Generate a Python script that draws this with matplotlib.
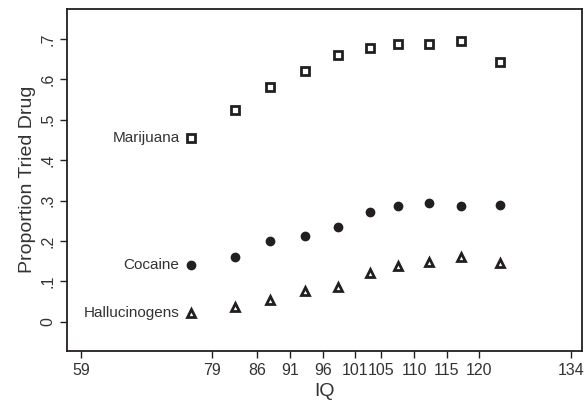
import numpy as np
import matplotlib
matplotlib.use('Agg')
import matplotlib.pyplot as plt

plt.rcParams['font.family'] = ['Liberation Sans', 'DejaVu Sans']

iq = [75.8, 82.5, 88.0, 93.3, 98.3, 103.2, 107.6, 112.3, 117.2, 123.1]
marijuana = [0.456, 0.524, 0.582, 0.621, 0.660, 0.677, 0.687, 0.687, 0.694, 0.642]
cocaine = [0.140, 0.161, 0.200, 0.213, 0.234, 0.272, 0.286, 0.293, 0.286, 0.289]
halluc = [0.022, 0.037, 0.054, 0.075, 0.085, 0.120, 0.138, 0.148, 0.159, 0.145]

xticks = [59, 79, 86, 91, 96, 101, 105, 110, 115, 120, 134]
yticks = [0, .1, .2, .3, .4, .5, .6, .7]
ylabels = ['0', '.1', '.2', '.3', '.4', '.5', '.6', '.7']

ink = '#231f20'

fig = plt.figure(figsize=(5.84, 4.05), dpi=100, facecolor='w')
ax = fig.add_axes([0.1152, 0.134, 0.9966 - 0.1152, 0.9785 - 0.134])

ax.plot(iq, marijuana, 's', ms=5.2, mfc='w', mec=ink, mew=2.0, ls='none')
ax.plot(iq, cocaine, 'o', ms=6, mfc=ink, mec=ink, ls='none')
ax.plot(iq, halluc, '^', ms=5.8, mfc='w', mec=ink, mew=2.0, ls='none')

for name, ys in [('Marijuana', marijuana), ('Cocaine', cocaine), ('Hallucinogens', halluc)]:
    ax.annotate(name, (iq[0], ys[0]), xytext=(-8, 0), textcoords='offset points',
                ha='right', va='center', fontsize=11, color='#333333')

ax.set_xlim(56.9, 135.7)
ax.set_ylim(-0.072, 0.775)
ax.set_xticks(xticks)
ax.set_xticklabels([str(t) for t in xticks], fontsize=11.5, color='#333333')
ax.set_yticks(yticks)
ax.set_yticklabels(ylabels, fontsize=11.5, color='#333333', rotation=90, va='center')
ax.tick_params(direction='out', length=5, width=1, color=ink)
for s in ax.spines.values():
    s.set_linewidth(1.3)
    s.set_color(ink)

ax.set_xlabel('IQ', fontsize=14, color='#333333', labelpad=4)
ax.set_ylabel('Proportion Tried Drug', fontsize=14, color='#333333', labelpad=3)

fig.savefig('out.png', dpi=100)
